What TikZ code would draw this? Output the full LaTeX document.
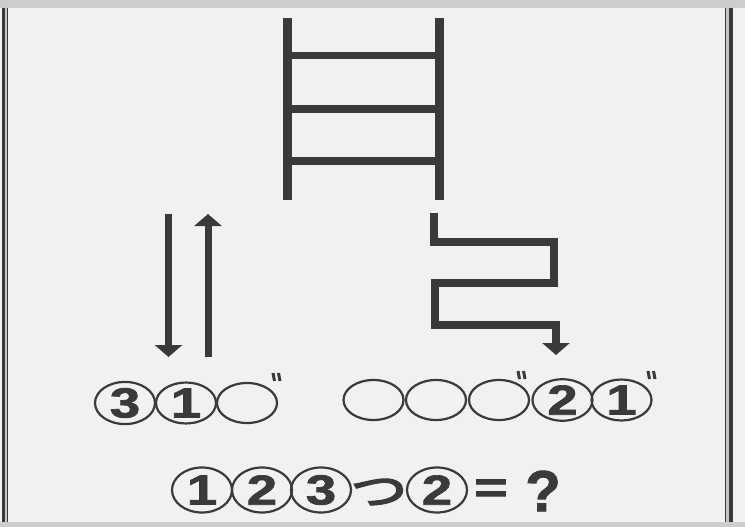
\documentclass[tikz,border=0pt]{standalone}
\usepackage{fontspec}
\setmainfont{Liberation Sans}
\newfontfamily\dfont[BoldFeatures={FakeBold=1.6}]{Liberation Sans}
\newfontfamily\cjk[FakeBold=2]{Noto Sans CJK JP}
\usetikzlibrary{shapes.geometric,arrows.meta,calc}
\definecolor{ink}{HTML}{3A3A3A}
\definecolor{page}{HTML}{F1F1F1}
\definecolor{band}{HTML}{CDCDCD}
\tikzset{
  rail/.style={ink,line width=9pt},
  rung/.style={ink,line width=7.5pt},
  bigarrow/.style={ink,line width=7pt,-{Triangle[width=27pt,length=12pt]}},
  zigzag/.style={ink,line width=7.5pt,miter limit=10,-{Triangle[width=27pt,length=12pt]}},
  circ/.style={ellipse,draw=ink,line width=2.2pt,minimum width=60pt,minimum height=40pt,inner sep=0pt,text=ink,font=\dfont\bfseries\fontsize{42}{42}\selectfont},
  bcirc/.style={circ,minimum height=45pt},
  dak/.style={ink,line width=3pt},
  sym/.style={inner sep=0pt,text=ink}
}
\newcommand{\dg}[1]{\scalebox{1.3}[1]{#1}}
\newcommand{\dakuten}[1]{\draw[dak] ($(#1)+(-3,0)$) -- ++(1.5,8); \draw[dak] ($(#1)+(2.5,0)$) -- ++(1.5,8);}
\begin{document}
\begin{tikzpicture}[x=1pt,y=-1pt]
\useasboundingbox (0,0) rectangle (745,527);
\fill[page] (0,0) rectangle (745,527);
\fill[band] (0,0) rectangle (745,8);
\fill[band] (0,522) rectangle (745,527);
% borders
\fill[gray!45] (5,8) rectangle (8,522);
\draw[ink,line width=3pt] (3.5,8) -- (3.5,522);
\draw[ink,line width=1.2pt] (7.8,8) -- (7.8,522);
\fill[gray!45] (725,8) rectangle (729,522);
\draw[ink,line width=1.2pt] (725.3,8) -- (725.3,522);
\draw[ink,line width=3.5pt] (731,8) -- (731,522);
% ladder
\coordinate (lt) at (287.5,18); \coordinate (lb) at (287.5,200);
\coordinate (rt) at (439.5,18); \coordinate (rb) at (439.5,200);
\draw[rail] (lt) -- (lb);
\draw[rail] (rt) -- (rb);
\foreach \y/\n in {55.5/a,109/b,161/c}{
  \coordinate (la\n) at (287.5,\y); \coordinate (ra\n) at (439.5,\y);
  \draw[rung] (la\n) -- (ra\n);
}
% left arrows
\coordinate (d1) at (168.5,214); \coordinate (d2) at (168.5,357);
\coordinate (u1) at (208,357); \coordinate (u2) at (208,214);
\draw[bigarrow] (d1) -- (d2);
\draw[bigarrow] (u1) -- (u2);
% zigzag arrow
\coordinate (z0) at (434,213);
\coordinate (z1) at (434,242);
\coordinate (z2) at (554,242);
\coordinate (z3) at (554,283);
\coordinate (z4) at (435,283);
\coordinate (z5) at (435,325);
\coordinate (z6) at (556,325);
\coordinate (z7) at (556,355);
\draw[zigzag] (z0) -- (z1) -- (z2) -- (z3) -- (z4) -- (z5) -- (z6) -- (z7);
% row 1
\node[circ] (p1) at (125,403) {\dg{3}};
\node[circ] (p2) at (186,403) {\dg{1}};
\node[circ] (p3) at (247,403) {};
\coordinate (k1) at (276,373);
\dakuten{k1}
% row 2
\node[circ] (q1) at (373.5,400) {};
\node[circ] (q2) at (436,400) {};
\node[circ] (q3) at (499,400) {};
\node[circ] (q4) at (562.5,400) {\dg{2}};
\node[circ] (q5) at (621.5,400) {\dg{1}};
\coordinate (k2) at (521,371);
\coordinate (k3) at (651,371);
\dakuten{k2}
\dakuten{k3}
% bottom equation
\node[bcirc] (b1) at (202,490) {\dg{1}};
\node[bcirc] (b2) at (262,490) {\dg{2}};
\node[bcirc] (b3) at (321,490) {\dg{3}};
\node[sym,font=\cjk\fontsize{50}{50}\selectfont] (b4) at (378,492) {\scalebox{1.4}[1]{っ}};
\node[sym,font=\dfont\bfseries\fontsize{44}{44}\selectfont] (b6) at (491,491) {\scalebox{1.3}[1]{=}};
\node[bcirc] (b5) at (437,490) {\dg{2}};
\node[sym,font=\dfont\bfseries\fontsize{58}{58}\selectfont] (b7) at (543,491) {?};
\end{tikzpicture}
\end{document}
